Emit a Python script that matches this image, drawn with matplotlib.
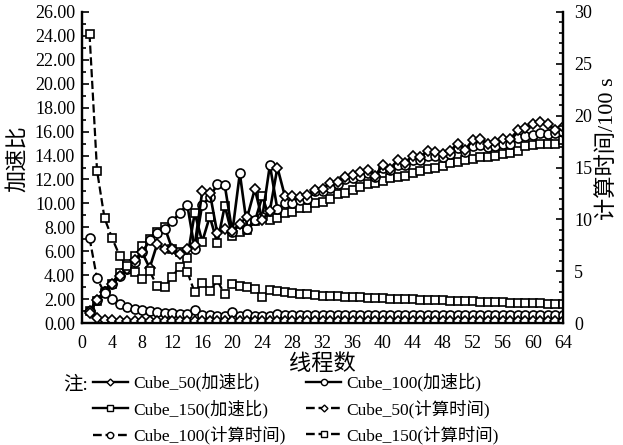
import matplotlib
matplotlib.use("Agg")
import matplotlib.pyplot as plt
from matplotlib.lines import Line2D
from matplotlib.ticker import MultipleLocator, FormatStrFormatter

plt.rcParams['font.family'] = ['Liberation Serif', 'Noto Sans CJK SC', 'DejaVu Sans']

threads = list(range(1, 65))

speedup_50 = [1.0, 1.9, 2.6, 3.3, 3.9, 4.5, 5.3, 5.9, 4.6, 6.6,
              6.2, 6.2, 5.8, 6.2, 6.5, 11.0, 10.9, 7.5, 7.9, 7.7,
              8.3, 8.9, 11.2, 8.6, 9.4, 13.0, 10.6, 10.6, 10.5, 10.7,
              11.1, 11.2, 11.7, 11.8, 12.2, 12.4, 12.6, 12.8, 12.3, 13.2,
              12.9, 13.6, 13.4, 14.0, 13.9, 14.4, 14.3, 14.1, 14.4, 15.0,
              14.5, 15.3, 15.4, 15.0, 15.1, 15.4, 15.4, 16.1, 16.3, 16.6,
              16.8, 16.6, 16.1, 16.4]
speedup_100 = [1.0, 1.9, 2.7, 3.3, 3.9, 4.5, 5.1, 5.9, 6.9, 7.5,
               7.9, 8.5, 9.2, 9.9, 6.2, 9.9, 10.5, 11.6, 11.5, 7.6,
               12.5, 7.9, 8.6, 8.9, 13.2, 9.5, 10.0, 10.0, 10.3, 10.4,
               11.0, 11.0, 11.3, 11.6, 12.0, 12.1, 12.3, 12.5, 12.2, 13.0,
               12.8, 13.2, 13.2, 13.6, 13.6, 14.0, 14.0, 13.9, 14.1, 14.6,
               14.3, 14.8, 14.9, 14.7, 14.8, 15.0, 15.0, 15.5, 15.6, 15.7,
               15.9, 15.8, 15.9, 16.0]
speedup_150 = [1.0, 1.8, 2.5, 3.3, 4.2, 4.9, 5.6, 6.4, 7.0, 7.6,
               8.0, 6.2, 5.9, 5.4, 9.2, 6.8, 8.9, 6.7, 9.8, 7.3,
               7.6, 7.8, 8.5, 10.6, 8.6, 8.8, 9.2, 9.3, 9.6, 9.6,
               10.0, 10.1, 10.4, 10.8, 10.9, 11.1, 11.4, 11.6, 11.7, 11.9,
               12.1, 12.2, 12.3, 12.5, 12.7, 12.9, 13.0, 13.1, 13.4, 13.5,
               13.6, 13.7, 13.9, 13.9, 14.0, 14.1, 14.2, 14.4, 14.8, 14.9,
               15.0, 15.0, 15.0, 15.3]

time_50 = [0.95, 0.45, 0.32, 0.27, 0.24, 0.22, 0.21, 0.2, 0.2, 0.19,
           0.19, 0.18, 0.18, 0.18, 0.18, 0.17, 0.17, 0.17, 0.17, 0.17,
           0.17, 0.17, 0.17, 0.17, 0.16, 0.16, 0.16, 0.16, 0.16, 0.16,
           0.16, 0.16, 0.16, 0.16, 0.16, 0.16, 0.16, 0.16, 0.16, 0.16,
           0.16, 0.16, 0.16, 0.16, 0.16, 0.16, 0.16, 0.16, 0.16, 0.16,
           0.16, 0.16, 0.16, 0.16, 0.16, 0.16, 0.16, 0.16, 0.16, 0.16,
           0.16, 0.16, 0.16, 0.16]
time_100 = [8.2, 4.3, 2.9, 2.3, 1.8, 1.55, 1.35, 1.25, 1.15, 1.05,
            1.0, 0.95, 0.88, 0.82, 1.25, 0.78, 0.75, 0.72, 0.72, 1.05,
            0.68, 0.9, 0.72, 0.7, 0.72, 0.85, 0.78, 0.8, 0.75, 0.76,
            0.75, 0.78, 0.76, 0.75, 0.76, 0.75, 0.75, 0.76, 0.75, 0.75,
            0.75, 0.75, 0.75, 0.75, 0.75, 0.75, 0.75, 0.75, 0.75, 0.75,
            0.75, 0.75, 0.75, 0.75, 0.75, 0.75, 0.75, 0.75, 0.75, 0.75,
            0.75, 0.75, 0.75, 0.75]
time_150 = [27.9, 14.7, 10.1, 8.2, 6.5, 5.5, 4.95, 4.2, 5.0, 3.55,
            3.45, 4.45, 5.45, 4.95, 2.95, 3.9, 3.1, 4.1, 2.75, 3.75,
            3.6, 3.5, 3.25, 2.55, 3.2, 3.1, 2.95, 2.85, 2.8, 2.75,
            2.7, 2.65, 2.62, 2.6, 2.55, 2.5, 2.48, 2.45, 2.42, 2.4,
            2.36, 2.33, 2.3, 2.28, 2.25, 2.22, 2.2, 2.18, 2.16, 2.13,
            2.1, 2.08, 2.05, 2.03, 2.0, 1.98, 1.96, 1.95, 1.93, 1.92,
            1.9, 1.88, 1.87, 1.86]

labels = ['Cube_50(加速比)', 'Cube_100(加速比)', 'Cube_150(加速比)',
          'Cube_50(计算时间)', 'Cube_100(计算时间)', 'Cube_150(计算时间)']

fig = plt.figure(figsize=(6.23, 4.45), dpi=100)
ax = fig.add_axes([82/623, 1-323/445, 481/623, 311/445])
ax2 = ax.twinx()

mk = dict(color='black', markerfacecolor='white', markeredgecolor='black', markeredgewidth=1.2)
lw_solid = 1.9
lw_dash = 1.6

ax.plot(threads, speedup_150, '-', marker='s', markersize=6.3, lw=lw_solid, **mk, zorder=3)
ax.plot(threads, speedup_100, '-', marker='o', markersize=6.5, lw=lw_solid, **mk, zorder=4)
ax.plot(threads, speedup_50, '-', marker='D', markersize=4.8, lw=lw_solid, **mk, zorder=5)

ax2.plot(threads, time_150, '--', marker='s', markersize=6.3, lw=lw_dash, **mk)
ax2.plot(threads, time_100, '--', marker='o', markersize=6.5, lw=lw_dash, **mk)
ax2.plot(threads, time_50, '--', marker='D', markersize=4.8, lw=lw_dash, **mk)

ax.set_xlim(0, 64)
ax.set_ylim(0, 26)
ax2.set_ylim(0, 30)
ax.set_xticks(range(0, 65, 4))
ax.yaxis.set_major_locator(MultipleLocator(2))
ax.yaxis.set_minor_locator(MultipleLocator(1))
ax.yaxis.set_major_formatter(FormatStrFormatter('%.2f'))
ax2.yaxis.set_major_locator(MultipleLocator(5))
ax2.yaxis.set_minor_locator(MultipleLocator(1))

for a in (ax, ax2):
    for s in a.spines.values():
        s.set_linewidth(1.6)
    a.spines['top'].set_visible(False)

ax.tick_params(axis='y', which='both', direction='in', labelsize=13, pad=5, width=1.2)
ax.tick_params(axis='y', which='major', length=5)
ax.tick_params(axis='y', which='minor', length=3)
ax.tick_params(axis='x', direction='in', labelsize=13, pad=9, length=0)
ax2.tick_params(axis='y', which='both', direction='in', labelsize=13, pad=8, width=1.2)
ax2.tick_params(axis='y', which='major', length=5)
ax2.tick_params(axis='y', which='minor', length=3)

ax.set_xlabel('线程数', fontsize=16, labelpad=1)
ax.set_ylabel('加速比', fontsize=16)
ax2.set_ylabel('计算时间/100 s', fontsize=16, rotation=90)
ax.yaxis.set_label_coords(-0.112, 0.53)
ax2.yaxis.set_label_coords(1.071, 0.56)

def h(ls, m, ms):
    return Line2D([0], [0], linestyle=ls, marker=m, markersize=ms, lw=1.7,
                  color='black', markerfacecolor='white', markeredgecolor='black',
                  markeredgewidth=1.0)

handles = [h('-', 'D', 3.5), h('-', 'o', 4.5), h('-', 's', 4.5),
           h('--', 'D', 3.5), h('--', 'o', 4.5), h('--', 's', 4.5)]
order = [0, 2, 4, 1, 3, 5]
fig.legend([handles[i] for i in order], [labels[i] for i in order],
           loc='upper left', bbox_to_anchor=(93/623, 1-373/445), ncol=2,
           frameon=False, fontsize=12.5, handlelength=2.0, handletextpad=0.3,
           columnspacing=1.2, labelspacing=0.45, borderaxespad=0, borderpad=0)
fig.text(63/623, 1-385/445, '注:', fontsize=14, va='center', ha='left')

fig.savefig('out.png', dpi=100)
